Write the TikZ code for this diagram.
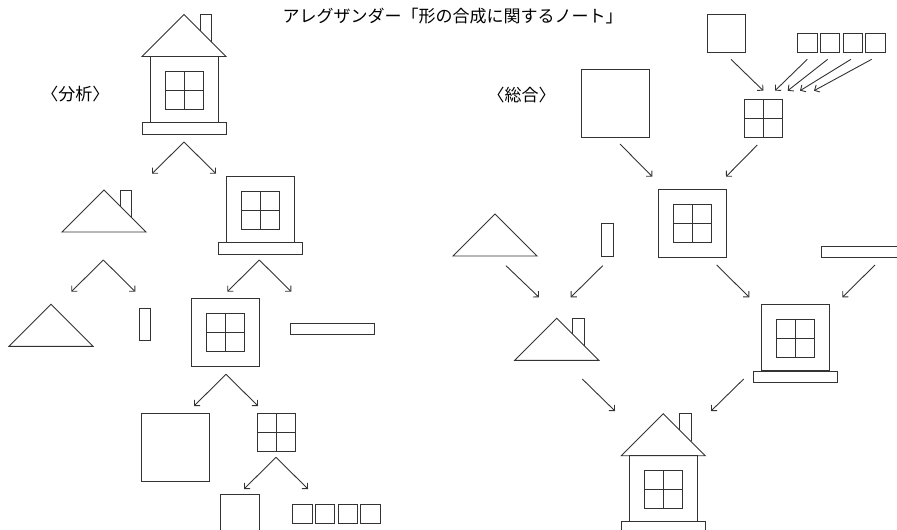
\documentclass[tikz,border=0pt]{standalone}
\usepackage{fontspec}
\newfontfamily\jpfont{Noto Sans CJK JP}
\usetikzlibrary{arrows.meta}

% building blocks of the little house
\tikzset{
  part/.style={draw=black!80, line width=0.9pt},
  arr/.style={part, -{Straight Barb[length=4pt,width=8pt]}},
  caption/.style={font=\jpfont\fontsize{17}{17}\selectfont, inner sep=0pt},
  pics/roof/.style={code={\draw[part] (-42,42) -- (0,0) -- (42,42) -- cycle;}},
  pics/chimney/.style={code={\draw[part] (16,16) -- (16,0) -- (27.7,0) -- (27.7,27.7);}},
  pics/window/.style={code={
    \draw[part] (-19,-19) rectangle (19,19);
    \draw[part] (0,-19) -- (0,19) (-19,0) -- (19,0);}},
  pics/wall/.style={code={
    \draw[part] (-34,0) rectangle (34,66);
    \pic at (0,34) {window};}},
  pics/sill/.style={code={\draw[part] (-42,0) rectangle (42,11.5);}},
  pics/frame/.style={code={
    \draw[part] (-34,-34) rectangle (34,34);
    \pic {window};}},
  pics/house/.style={code={
    \pic {roof}; \pic {chimney};
    \pic at (0,42) {wall};
    \pic at (0,108) {sill};}},
  pics/split/.style={code={
    \draw[arr] (0,0) -- (-32,31.7);
    \draw[arr] (0,0) -- (32,31.7);}},
  pics/cubes/.style={code={
    \foreach \i in {0,...,3}
      \draw[part] (22.7*\i,0) rectangle ++(19.5,19.5);}},
}

\begin{document}
\begin{tikzpicture}[x=1pt,y=-1pt]
\useasboundingbox (0,0) rectangle (897,530);
\clip (0,0) rectangle (897,530);

\node[caption] (title) at (452.5,16) {アレグザンダー「形の合成に関するノート」};
\node[caption] (analysis) at (75.5,94) {〈分析〉};
\node[caption] (synthesis) at (521.5,95) {〈総合〉};

% analysis: take the house apart
\pic at (184,14.5) {house};
\pic at (184,142) {split};
\pic at (104,190) {roof};
\pic at (104,190) {chimney};
\pic at (260,176.7) {wall};
\pic at (260,242.7) {sill};
\pic at (103.3,260) {split};
\pic at (259.3,260) {split};
\pic at (51,304.3) {roof};
\draw[part] (139.3,308.3) rectangle (150.7,340);
\pic at (225.85,332.85) {frame};
\pic at (332.65,323.3) {sill};
\pic at (226,374.3) {split};
\draw[part] (141,413.3) rectangle ++(68.3,67.7);
\pic at (276.2,432.2) {window};
\pic at (276,457.3) {split};
\draw[part] (220.7,540) |- (259,494.3) -- (259,540);
\pic at (292.7,504) {cubes};

% synthesis: put it back together
\draw[part] (707.3,14.3) rectangle ++(38.5,38.5);
\pic at (797.7,33.3) {cubes};
\draw[arr] (731,59.3) -- (763.3,90.7);
\draw[arr] (807.3,59.3) -- (775,90.7);
\draw[arr] (827.7,59.3) -- (787.7,90.7);
\draw[arr] (851,59.3) -- (800,90.7);
\draw[arr] (871.7,59.3) -- (814,90.7);
\pic at (763.5,118.2) {window};
\draw[part] (581,69) rectangle (649.3,137.3);
\draw[arr] (620,144) -- (652.3,176.7);
\draw[arr] (757.3,145) -- (726,176.7);
\pic at (692.8,223.3) {frame};
\pic at (495,214) {roof};
\draw[part] (601.7,223.3) rectangle (613.3,256);
\pic at (863.4,246) {sill};
\draw[arr] (506,265.7) -- (539,297.3);
\draw[arr] (602.7,265.7) -- (570.7,297.3);
\draw[arr] (716.7,265) -- (749.3,297.3);
\draw[arr] (875,265) -- (842.3,297.3);
\pic at (556.7,318.3) {roof};
\pic at (556.7,318.3) {chimney};
\pic at (795.85,304.7) {wall};
\pic at (795.85,371.3) {sill};
\draw[arr] (582.3,379) -- (615,411);
\draw[arr] (743.7,379) -- (711,411);
\pic at (663.3,413.7) {house};

\end{tikzpicture}
\end{document}
